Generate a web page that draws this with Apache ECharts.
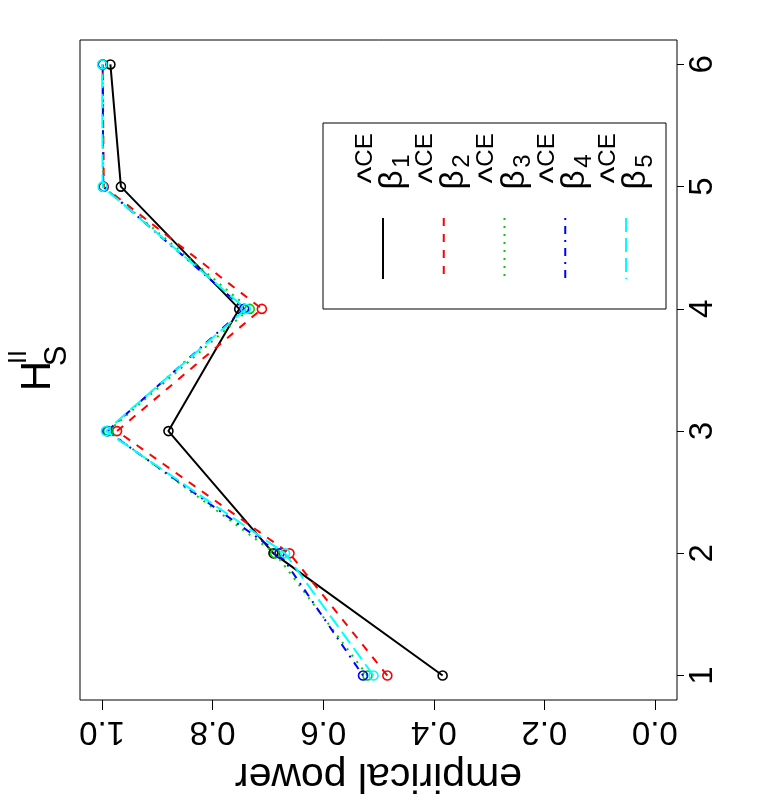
<!DOCTYPE html>
<html>
<head>
<meta charset="utf-8">
<script src="https://cdn.jsdelivr.net/npm/echarts@6/dist/echarts.min.js"></script>
<style>
  html, body { margin: 0; padding: 0; background: #fff; }
  #powerChart { width: 777px; height: 800px; }
</style>
</head>
<body>
<div id="powerChart"></div>
<script>
// data
const categories = [1, 2, 3, 4, 5, 6];
const beta1 = [0.384, 0.690, 0.880, 0.752, 0.966, 0.985];
const beta2 = [0.484, 0.661, 0.973, 0.711, 0.997, 0.999];
const beta3 = [0.520, 0.687, 0.989, 0.733, 0.998, 0.999];
const beta4 = [0.528, 0.679, 0.991, 0.743, 0.998, 0.999];
const beta5 = [0.509, 0.669, 0.993, 0.740, 0.999, 1.000];
const powerTicks = [0, 0.2, 0.4, 0.6, 0.8, 1.0];
const legendSubs = ['1', '2', '3', '4', '5'];

const FONT = 'Liberation Sans, Arial, sans-serif';
const colors = ['#000000', '#ff0000', '#00cd00', '#0000ff', '#00ffff'];
const dashes = ['solid', [8, 8], [2, 6], [2, 6, 8, 6], [14, 6]];
const allSeries = [beta1, beta2, beta3, beta4, beta5];

let chart = echarts.init(document.getElementById('powerChart'), null, { renderer: 'canvas' });

function makeSeries(vals, i) {
  return {
    name: 'beta' + legendSubs[i],
    type: 'line',
    data: categories.map((c, k) => [vals[k], c]),
    symbol: 'circle',
    symbolSize: 9,
    itemStyle: { color: 'rgba(0,0,0,0)', borderColor: colors[i], borderWidth: 1.6 },
    lineStyle: { color: colors[i], width: 2, type: dashes[i] },
    emphasis: { disabled: true },
    z: 2 + i
  };
}

// legend + title drawn rotated (the whole figure is turned 90deg)
let graphics = [];
const ROT = Math.PI / 2;
function rotText(txt, x, y, size) {
  return { type: 'text', x: x, y: y, rotation: ROT,
    style: { text: txt, font: size + 'px ' + FONT, align: 'center', verticalAlign: 'middle', fill: '#000' } };
}
graphics.push({
  type: 'rect', shape: { x: 323, y: 123, width: 343, height: 186 },
  style: { fill: 'none', stroke: '#000', lineWidth: 1 }
});
legendSubs.forEach((s, i) => {
  let x0 = 383 + 60.75 * i;
  graphics.push({
    type: 'line', shape: { x1: x0, y1: 218, x2: x0, y2: 279 },
    style: { stroke: colors[i], lineWidth: 2, lineDash: dashes[i] === 'solid' ? null : dashes[i] }
  });
  graphics.push(rotText('β', x0 + 10, 180, 33));
  graphics.push(rotText('^', x0 - 10, 175, 36));
  graphics.push(rotText(s, x0 + 19, 161, 24));
  graphics.push(rotText('CE', x0 - 18, 150, 24));
});
// title H_S^II
graphics.push(rotText('H', 38, 376, 42));
graphics.push(rotText('S', 57, 356, 31));
graphics.push(rotText('II', 19, 357, 25));

chart.setOption({
  animation: false,
  backgroundColor: '#fff',
  grid: {
    left: 80, right: 100, top: 40, bottom: 100,
    show: true, borderColor: '#000', borderWidth: 1,
    outerBoundsMode: 'none'
  },
  xAxis: {
    type: 'value',
    min: -0.04, max: 1.04,
    inverse: true,
    position: 'bottom',
    name: 'empirical power',
    nameLocation: 'middle',
    nameRotate: 180,
    nameGap: 55,
    nameTextStyle: { fontFamily: FONT, fontSize: 41, color: '#000' },
    axisLine: { show: false, onZero: false },
    splitLine: { show: false },
    axisTick: { show: true, length: 10, lineStyle: { color: '#000', width: 1 }, customValues: powerTicks },
    axisLabel: {
      rotate: 180, margin: 15, fontFamily: FONT, fontSize: 33, color: '#000',
      customValues: powerTicks,
      formatter: v => v.toFixed(1)
    }
  },
  yAxis: {
    type: 'value',
    min: 0.8, max: 6.2,
    position: 'right',
    axisLine: { show: false, onZero: false },
    splitLine: { show: false },
    axisTick: { show: true, length: 7, lineStyle: { color: '#000', width: 1 }, customValues: categories },
    axisLabel: {
      rotate: 90, margin: 9, fontFamily: FONT, fontSize: 33, color: '#000',
      customValues: categories
    }
  },
  series: allSeries.map(makeSeries),
  graphic: graphics
});
</script>
</body>
</html>
